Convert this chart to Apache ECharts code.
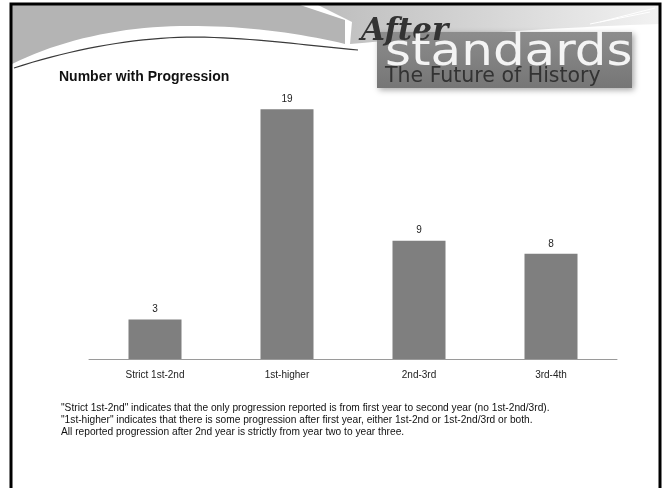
<!DOCTYPE html>
<html>
<head>
<meta charset="utf-8">
<script src="https://cdn.jsdelivr.net/npm/echarts@6/dist/echarts.min.js"></script>
<style>
  html, body { margin: 0; padding: 0; background: #fff; }
  #chart { width: 667px; height: 488px; }
</style>
</head>
<body>
<div id="chart"></div>
<script>
// data
var categories = ['Strict 1st-2nd', '1st-higher', '2nd-3rd', '3rd-4th'];
var counts = [3, 19, 9, 8];
var chartTitle = 'Number with Progression';
var notes = [
    '"Strict 1st-2nd" indicates that the only progression reported is from first year to second year (no 1st-2nd/3rd).',
    '"1st-higher" indicates that there is some progression after first year, either 1st-2nd or 1st-2nd/3rd or both.',
    'All reported progression after 2nd year is strictly from year two to year three.'
];

var chart = echarts.init(document.getElementById('chart'));
var baseFont = '"Liberation Sans", Arial, sans-serif';

// sample a cubic bezier into polygon points (decoration only)
function bez(p0, p1, p2, p3, n) {
    var pts = [];
    for (var i = 0; i <= n; i++) {
        var t = i / n, u = 1 - t;
        pts.push([
            u * u * u * p0[0] + 3 * u * u * t * p1[0] + 3 * u * t * t * p2[0] + t * t * t * p3[0],
            u * u * u * p0[1] + 3 * u * u * t * p1[1] + 3 * u * t * t * p2[1] + t * t * t * p3[1]
        ]);
    }
    return pts;
}

var swooshEdge = bez([12, 64], [60, 40], [120, 27], [180, 26], 20)
    .concat(bez([180, 26], [240, 25], [300, 33], [345, 44], 20).slice(1));
var greyArea = swooshEdge.concat([[345, 20], [300, 5], [12, 5]]);
var lightArea = [[318, 5], [660, 5], [660, 24]]
    .concat(bez([660, 24], [560, 27], [450, 35], [350, 44], 20).slice(1))
    .concat([[352, 22]]);
var darkCurve = bez([14, 68], [75, 48], [140, 37], [195, 37], 20)
    .concat(bez([195, 37], [260, 38], [310, 46], [358, 50], 20).slice(1));

var option = {
    backgroundColor: '#ffffff',
    animation: false,
    title: {
        text: chartTitle,
        left: 59,
        top: 70,
        padding: 0,
        textStyle: { fontFamily: baseFont, fontSize: 14, fontWeight: 'bold', color: '#111' }
    },
    grid: { left: 89, right: 50, top: 96, bottom: 129 },
    xAxis: {
        type: 'category',
        data: categories,
        axisLine: { lineStyle: { color: '#9a9a9a', width: 1 } },
        axisTick: { show: false },
        axisLabel: { color: '#222', fontSize: 10, fontFamily: baseFont, margin: 11 }
    },
    yAxis: {
        type: 'value',
        min: 0,
        max: 20,
        show: false,
        splitLine: { show: false }
    },
    series: [{
        type: 'bar',
        data: counts,
        barWidth: 53,
        itemStyle: { color: '#7f7f7f' },
        label: {
            show: true,
            position: 'top',
            distance: 5,
            color: '#222',
            fontSize: 10,
            fontFamily: baseFont
        }
    }],
    graphic: [
        // grey swoosh at the top left
        { type: 'polygon', z: -10, shape: { points: greyArea }, style: { fill: '#b4b4b4' } },
        // lighter band at the top right
        {
            type: 'polygon', z: -10,
            shape: { points: lightArea },
            style: {
                fill: new echarts.graphic.LinearGradient(0, 0, 1, 0, [
                    { offset: 0, color: '#bdbdbd' },
                    { offset: 0.5, color: '#d6d6d6' },
                    { offset: 1, color: '#f2f2f2' }
                ])
            }
        },
        { type: 'line', z: -9, shape: { x1: 600, y1: 22, x2: 655, y2: 8 }, style: { stroke: '#fff', lineWidth: 1 } },
        { type: 'line', z: -9, shape: { x1: 590, y1: 24, x2: 650, y2: 12 }, style: { stroke: '#fff', lineWidth: 1 } },
        // dark thin curve
        {
            type: 'polyline', z: -8,
            shape: { points: darkCurve },
            style: { fill: null, stroke: '#3a3a3a', lineWidth: 1.2 }
        },
        // logo block
        {
            type: 'rect', z: -7,
            shape: { x: 377, y: 32, width: 255, height: 56 },
            style: {
                fill: new echarts.graphic.LinearGradient(0, 0, 0, 1, [
                    { offset: 0, color: '#8c8c8c' },
                    { offset: 1, color: '#767676' }
                ]),
                shadowBlur: 6, shadowColor: 'rgba(0,0,0,0.35)', shadowOffsetX: 2, shadowOffsetY: 2
            }
        },
        {
            type: 'text', z: -6, x: 361, y: 16,
            style: {
                text: 'After', fontFamily: '"DejaVu Serif", serif', fontStyle: 'italic', fontWeight: 'bold',
                fontSize: 31, fill: '#333'
            }
        },
        {
            type: 'text', z: -6, x: 385, y: 31, scaleX: 1.11,
            style: { text: 'standards', fontFamily: '"DejaVu Sans", sans-serif', fontSize: 45, fill: '#f4f4f4' }
        },
        {
            type: 'text', z: -6, x: 385, y: 66,
            style: { text: 'The Future of History', fontFamily: '"DejaVu Sans", sans-serif', fontSize: 20.5, fill: '#333' }
        },
        // slide frame
        {
            type: 'rect', z: 10,
            shape: { x: 11, y: 4, width: 649, height: 500 },
            style: { fill: null, stroke: '#000', lineWidth: 3 }
        },
        // footnote
        {
            type: 'text', x: 61, y: 402,
            style: {
                text: notes.join('\n'), fontFamily: baseFont, fontSize: 10.2,
                lineHeight: 12, fill: '#111'
            }
        }
    ]
};

chart.setOption(option);
window.onresize = function() {
    chart.resize();
};
</script>
</body>
</html>
